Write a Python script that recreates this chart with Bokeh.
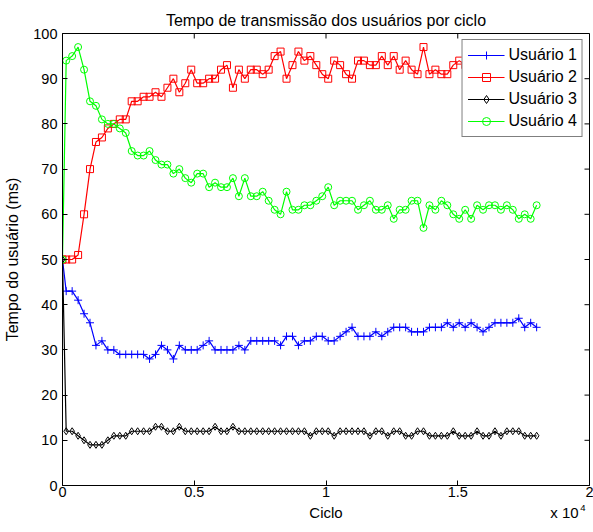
from bokeh.plotting import figure
from bokeh.models import Range1d, FixedTicker, LinearAxis
from bokeh.embed import file_html
from bokeh.resources import INLINE

# ---------------- data ----------------
ciclo = [0, 140, 366, 592, 818, 1044, 1270, 1496, 1722, 1948,
         2174, 2400, 2626, 2852, 3078, 3304, 3530, 3756, 3982, 4208,
         4434, 4660, 4886, 5112, 5338, 5564, 5790, 6016, 6242, 6468,
         6694, 6920, 7146, 7372, 7598, 7824, 8050, 8276, 8502, 8728,
         8954, 9180, 9406, 9632, 9858, 10084, 10310, 10536, 10762, 10988,
         11214, 11440, 11666, 11892, 12118, 12344, 12570, 12796, 13022, 13248,
         13474, 13700, 13926, 14152, 14378, 14604, 14830, 15056, 15282, 15508,
         15734, 15960, 16186, 16412, 16638, 16864, 17090, 17316, 17542, 17768,
         17994]

usuario1 = [50, 43, 43, 41, 38, 36, 31, 32, 30, 30,
            29, 29, 29, 29, 29, 28, 29, 31, 30, 28,
            31, 30, 30, 30, 31, 32, 30, 30, 30, 30,
            31, 30, 32, 32, 32, 32, 32, 31, 33, 33,
            31, 32, 32, 33, 33, 32, 32, 33, 34, 35,
            33, 33, 33, 34, 33, 34, 35, 35, 35, 34,
            34, 34, 35, 35, 35, 36, 35, 36, 35, 36,
            35, 34, 35, 36, 36, 36, 36, 37, 35, 36,
            35]

usuario2 = [50, 50, 50, 51, 60, 70, 76, 77, 79, 80,
            81, 81, 85, 85, 86, 86, 87, 86, 88, 90,
            87, 89, 92, 89, 89, 90, 90, 92, 93, 88,
            92, 90, 92, 92, 91, 92, 95, 96, 90, 93,
            96, 94, 95, 93, 91, 90, 94, 93, 91, 90,
            94, 94, 93, 93, 95, 93, 95, 92, 94, 92,
            91, 97, 91, 92, 91, 91, 93, 94, 93, 94,
            92, 93, 94, 93, 92, 94, 93, 95, 93, 94,
            93]

usuario3 = [50, 12, 12, 11, 10, 9, 9, 9, 10, 11,
            11, 11, 12, 12, 12, 12, 13, 13, 12, 12,
            13, 12, 12, 12, 12, 12, 13, 12, 12, 13,
            12, 12, 12, 12, 12, 12, 12, 12, 12, 12,
            12, 12, 11, 12, 12, 12, 11, 12, 12, 12,
            12, 12, 11, 12, 12, 11, 12, 12, 11, 11,
            12, 12, 11, 11, 11, 11, 12, 11, 11, 11,
            12, 11, 11, 12, 11, 12, 12, 12, 11, 11,
            11]

usuario4 = [50, 94, 95, 97, 92, 85, 84, 81, 80, 80,
            79, 78, 74, 73, 73, 74, 72, 71, 71, 69,
            70, 68, 67, 69, 69, 66, 67, 66, 66, 68,
            64, 68, 64, 64, 65, 63, 61, 60, 65, 61,
            61, 62, 62, 63, 64, 66, 62, 63, 63, 63,
            61, 62, 63, 61, 61, 62, 59, 61, 61, 63,
            63, 57, 62, 61, 63, 62, 60, 59, 61, 59,
            62, 61, 62, 62, 61, 62, 61, 59, 60, 59,
            62]

nomes = ["Usuário 1", "Usuário 2", "Usuário 3", "Usuário 4"]
x_ticks = [0, 5000, 10000, 15000, 20000]
x_tick_labels = ["0", "0.5", "1", "1.5", "2"]
y_ticks = [0, 10, 20, 30, 40, 50, 60, 70, 80, 90, 100]
x_titulo = "Ciclo"
x_escala = "x 10"
x_expoente = "4"

FONT = "Liberation Sans"
X_MAX, Y_MAX = 20000, 100

p = figure(width=593, height=532, output_backend="svg", toolbar_location=None,
           x_range=Range1d(0, X_MAX), y_range=Range1d(0, Y_MAX),
           min_border_left=62, min_border_right=4, min_border_top=33,
           min_border_bottom=47,
           title="Tempo de transmissão dos usuários por ciclo")
p.title.align = "center"
p.title.text_font = FONT
p.title.text_font_size = "16px"
p.title.text_font_style = "normal"
p.title.text_color = "black"
p.title.standoff = 9
p.grid.visible = False
p.outline_line_color = "black"
p.outline_line_width = 1
p.background_fill_color = "white"
p.border_fill_color = "white"

xax = p.xaxis[0]
xax.ticker = FixedTicker(ticks=x_ticks)
xax.major_label_overrides = dict(zip(x_ticks, x_tick_labels))
xax.major_label_standoff = 1

yax = p.yaxis[0]
yax.ticker = FixedTicker(ticks=y_ticks)
yax.axis_label = "Tempo do usuário (ms)"
yax.axis_label_standoff = 9
yax.major_label_standoff = 5

for ax in (xax, yax):
    ax.major_tick_in = 5
    ax.major_tick_out = 0
    ax.minor_tick_in = 0
    ax.minor_tick_out = 0
    ax.axis_line_color = "black"
    ax.major_tick_line_color = "black"
    ax.major_label_text_font = FONT
    ax.major_label_text_font_size = "14.5px"
    ax.major_label_text_color = "black"
    ax.axis_label_text_font = FONT
    ax.axis_label_text_font_size = "16px"
    ax.axis_label_text_font_style = "normal"
    ax.axis_label_text_color = "black"

# row with the exponent of the scale factor (superscript)
pos_exp = [19750]
eixo_exp = LinearAxis(ticker=FixedTicker(ticks=pos_exp),
                      major_label_overrides={pos_exp[0]: x_expoente},
                      axis_line_color=None, major_tick_line_color=None,
                      minor_tick_line_color=None, major_tick_in=0, major_tick_out=0,
                      minor_tick_in=0, minor_tick_out=0, major_label_standoff=5,
                      major_label_text_font=FONT, major_label_text_font_size="9.5px",
                      major_label_text_color="black")
p.add_layout(eixo_exp, "below")

# row with the axis title in the centre and the scale factor at the right
pos_titulo = [10000, 19050]
eixo2 = LinearAxis(ticker=FixedTicker(ticks=pos_titulo),
                   major_label_overrides=dict(zip(pos_titulo, [x_titulo, x_escala])),
                   axis_line_color=None, major_tick_line_color=None,
                   minor_tick_line_color=None, major_tick_in=0, major_tick_out=0,
                   minor_tick_in=0, minor_tick_out=0, major_label_standoff=-10,
                   major_label_text_font=FONT, major_label_text_font_size="15px",
                   major_label_text_color="black")
p.add_layout(eixo2, "below")

# mirrored inward ticks on the top and right edges (MATLAB box style)
p.ray(x=x_ticks, y=Y_MAX, length=5, length_units="screen", angle=-90,
      angle_units="deg", line_color="black", line_width=1)
p.ray(x=X_MAX, y=y_ticks, length=5, length_units="screen", angle=180,
      angle_units="deg", line_color="black", line_width=1)

series = [
    (usuario1, "#0000ff", "cross", 8),
    (usuario2, "#ff0000", "square", 7),
    (usuario3, "#000000", "diamond", 7),
    (usuario4, "#00ff00", "circle", 7),
]
for (vals, cor, marc, tam), nome in zip(series, nomes):
    p.line(ciclo, vals, line_color=cor, line_width=1.2, legend_label=nome)
    p.scatter(ciclo, vals, marker=marc, size=tam, line_color=cor, line_width=1,
              fill_color=None, legend_label=nome)

lg = p.legend[0]
lg.location = "top_right"
lg.margin = 6
lg.padding = 5
lg.spacing = 2
lg.glyph_width = 37
lg.glyph_height = 20
lg.label_height = 20
lg.label_standoff = 4
lg.label_text_font = FONT
lg.label_text_font_size = "16px"
lg.label_text_color = "black"
lg.border_line_color = "black"
lg.border_line_width = 1
lg.background_fill_color = "white"
lg.background_fill_alpha = 1.0

open("out.html", "w").write(file_html(p, INLINE))
